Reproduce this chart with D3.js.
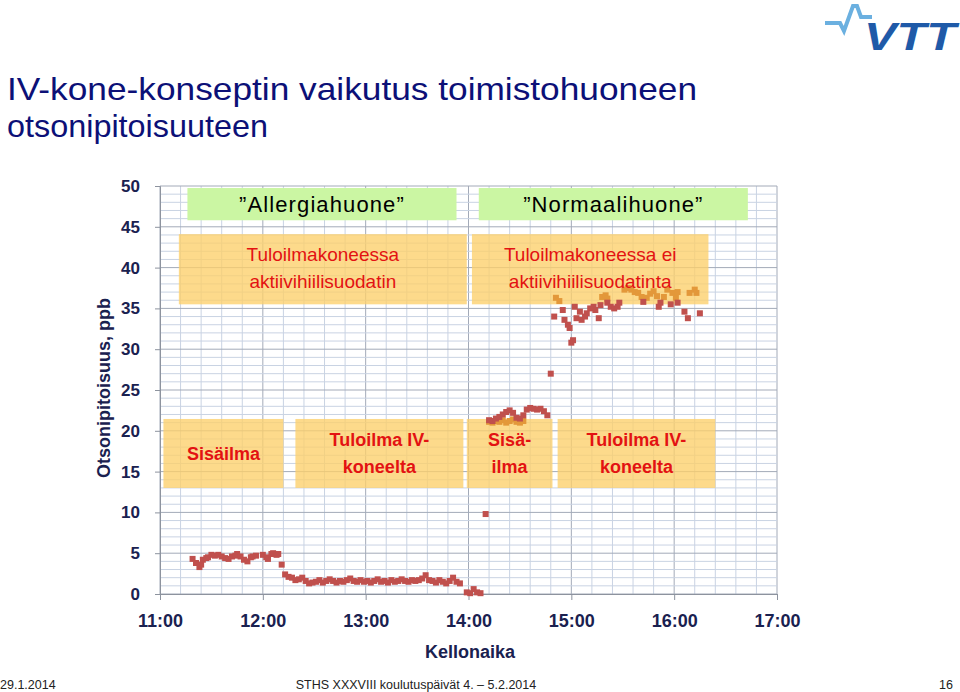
<!DOCTYPE html>
<html>
<head>
<meta charset="utf-8">
<script src="https://cdn.jsdelivr.net/npm/d3@7"></script>
<style>
  html, body { margin: 0; padding: 0; background: #fff; }
  svg { display: block; font-family: "Liberation Sans", Arial, sans-serif; }
</style>
</head>
<body>
<svg id="chart" width="960" height="692"></svg>
<script>
// ---------------- DATA ----------------
const xTickLabels = ["11:00", "12:00", "13:00", "14:00", "15:00", "16:00", "17:00"];
const yTicks = [0, 5, 10, 15, 20, 25, 30, 35, 40, 45, 50];

// Red series (ozone, ppb)
const redTimes = [
  "11:19","11:21","11:23","11:24","11:25","11:27","11:28","11:30","11:32","11:34",
  "11:36","11:38","11:40","11:42","11:44","11:45","11:47","11:49","11:51","11:53",
  "11:54","11:56","12:00","12:02","12:03","12:05","12:06","12:08","12:09","12:11",
  "12:13","12:15","12:17","12:19","12:21","12:23","12:25","12:27","12:29","12:31",
  "12:33","12:35","12:37","12:39","12:41","12:43","12:45","12:47","12:49","12:51",
  "12:53","12:55","12:57","12:59","13:01","13:03","13:05","13:07","13:09","13:11",
  "13:13","13:15","13:17","13:19","13:21","13:23","13:25","13:27","13:29","13:31",
  "13:33","13:35","13:37","13:39","13:41","13:43","13:45","13:47","13:49","13:51",
  "13:53","13:55",
  "13:59","14:01","14:03","14:05","14:07","14:10",
  "14:12","14:14","14:16","14:18","14:20","14:22","14:24","14:26","14:28","14:30",
  "14:32","14:34","14:36","14:38","14:40","14:42","14:44","14:46","14:48",
  "14:50","14:55","14:56","14:58","14:59","15:00","15:01","15:02","15:03","15:05",
  "15:06","15:08","15:09","15:11","15:13","15:14","15:16","15:17","15:21","15:23",
  "15:25","15:27","15:28","15:42","15:51","15:52","15:58","16:02","16:06","16:08",
  "16:15"
];
const redValues = [
  4.3,3.8,3.3,3.6,4.2,4.4,4.5,4.8,4.7,4.8,
  4.6,4.4,4.3,4.6,4.7,4.9,4.6,4.2,4.0,4.5,
  4.6,4.7,4.8,4.5,4.3,4.9,5.0,4.8,4.9,3.6,
  2.4,2.1,2.0,1.7,1.8,2.0,1.6,1.3,1.4,1.5,
  1.7,1.4,1.6,1.8,1.6,1.4,1.6,1.5,1.7,1.9,
  1.6,1.5,1.7,1.5,1.6,1.4,1.6,1.8,1.5,1.6,
  1.4,1.7,1.5,1.6,1.8,1.6,1.5,1.7,1.6,1.7,
  1.9,2.3,1.7,1.6,1.4,1.7,1.5,1.3,1.6,2.0,
  1.5,1.3,
  0.2,0.1,0.6,0.2,0.1,9.8,
  21.3,21.2,21.5,21.7,22.0,22.3,22.5,22.2,21.6,21.5,
  21.9,22.6,22.8,22.7,22.6,22.7,22.4,21.9,27.0,
  34.0,34.8,33.6,33.0,32.6,30.8,31.1,35.2,33.8,34.6,
  33.6,34.0,34.4,35.0,35.2,34.8,33.8,35.4,35.7,35.2,
  35.0,35.2,35.7,35.8,35.2,35.7,35.5,35.7,34.6,33.8,
  34.4
];

// Orange series (ozone, ppb)
const orangeTimes = [
  "14:12","14:14","14:16","14:18","14:20","14:22","14:24","14:26","14:28","14:30","14:32",
  "14:51","14:53","15:18","15:20","15:21","15:31","15:33","15:35","15:37","15:39",
  "15:41","15:44","15:46","15:48","15:50","15:54","15:56","15:59","16:01","16:02",
  "16:09","16:12","16:13"
];
const orangeValues = [
  21.1,21.0,21.2,21.1,21.3,21.0,21.2,21.4,21.1,21.0,21.2,
  36.3,35.9,36.4,36.6,36.2,37.3,37.5,37.3,37.0,36.9,
  36.4,36.3,36.8,37.1,36.5,36.4,37.3,36.9,36.3,37.0,
  36.9,37.3,36.9
];

// Annotation boxes (time range, ppb range)
const boxNames  = ["green1","green2","top1","top2","sis1","tulo1","sis2","tulo2"];
const boxStart  = ["11:16","14:06","11:11","14:02","11:02","12:19","13:59","14:52"];
const boxEnd    = ["13:53","16:43","13:59","16:20","12:12","13:57","14:49","16:24"];
const boxTop    = [49.75, 49.75, 44.1, 44.1, 21.45, 21.45, 21.45, 21.45];
const boxBottom = [45.8, 45.8, 35.5, 35.5, 13.0, 13.0, 13.0, 13.0];
const boxLines  = [
  ["\u201DAllergiahuone\u201D"],
  ["\u201DNormaalihuone\u201D"],
  ["Tuloilmakoneessa", "aktiivihiilisuodatin"],
  ["Tuloilmakoneessa ei", "aktiivihiilisuodatinta"],
  ["Sisäilma"],
  ["Tuloilma IV-", "koneelta"],
  ["Sisä-", "ilma"],
  ["Tuloilma IV-", "koneelta"]
];

// ---------------- DRAW ----------------
const svg = d3.select("#chart");
const parse = d3.timeParse("%H:%M");
const x = d3.scaleTime().domain([parse("11:00"), parse("17:00")]).range([160, 777]);
const y = d3.scaleLinear().domain([0, 50]).range([594, 186]);

svg.append("rect").attr("width", 960).attr("height", 692).attr("fill", "#fff");

// Title
svg.append("text").attr("x", 7).attr("y", 100).attr("fill", "#0c1077")
  .attr("font-size", 32).attr("textLength", 690).attr("lengthAdjust", "spacingAndGlyphs")
  .text("IV-kone-konseptin vaikutus toimistohuoneen");
svg.append("text").attr("x", 7).attr("y", 137).attr("fill", "#0c1077")
  .attr("font-size", 32).attr("textLength", 261).attr("lengthAdjust", "spacingAndGlyphs")
  .text("otsonipitoisuuteen");

// VTT logo
const logo = svg.append("g");
logo.append("path")
  .attr("d", "M825,23 L840,23 L844,31 L853,6 L857,6 L861,17 L872,17")
  .attr("fill", "none").attr("stroke", "#6bb0e0").attr("stroke-width", 4)
  .attr("stroke-linejoin", "miter");
logo.append("text").attr("x", 864).attr("y", 50)
  .attr("font-size", 38).attr("font-weight", "bold").attr("font-style", "italic")
  .attr("fill", "#1f5aa8").attr("textLength", 92).attr("lengthAdjust", "spacingAndGlyphs")
  .text("VTT");

// Grid
const grid = svg.append("g");
const minorX = d3.timeMinute.every(12).range(parse("11:00"), parse("17:01"));
grid.selectAll("line.vx").data(minorX).join("line")
  .attr("x1", d => x(d)).attr("x2", d => x(d))
  .attr("y1", y(50)).attr("y2", y(0))
  .attr("stroke", d => d.getMinutes() === 0 ? "#a3aab8" : "#c9d3e3")
  .attr("stroke-width", 1);
grid.selectAll("line.hy").data(d3.range(0, 51, 1)).join("line")
  .attr("x1", x.range()[0]).attr("x2", x.range()[1])
  .attr("y1", d => y(d)).attr("y2", d => y(d))
  .attr("stroke", d => d % 5 === 0 ? "#a3aab8" : "#c9d3e3")
  .attr("stroke-width", 1);

// Axes
const axisColor = "#1a2150";
const yAxis = svg.append("g").attr("transform", `translate(${x.range()[0]},0)`)
  .call(d3.axisLeft(y).tickValues(yTicks).tickSize(5).tickPadding(15).tickFormat(d3.format("d")));
yAxis.select(".domain").attr("stroke", "#8d939e");
yAxis.selectAll(".tick line").attr("stroke", "#8d939e");
yAxis.selectAll(".tick text").attr("font-size", 17).attr("font-weight", "bold").attr("fill", axisColor)
  .attr("font-family", "Liberation Sans, Arial, sans-serif");

const xAxis = svg.append("g").attr("transform", `translate(0,${y(0)})`)
  .call(d3.axisBottom(x).tickValues(xTickLabels.map(parse)).tickSize(6).tickPadding(14)
    .tickFormat((d, i) => xTickLabels[i]));
xAxis.select(".domain").attr("stroke", "#8d939e");
xAxis.selectAll(".tick line").attr("stroke", "#8d939e");
xAxis.selectAll(".tick text").attr("font-size", 18).attr("font-weight", "bold").attr("fill", axisColor)
  .attr("font-family", "Liberation Sans, Arial, sans-serif");

// Axis titles
svg.append("text").attr("x", 470).attr("y", 658).attr("text-anchor", "middle")
  .attr("font-size", 18).attr("font-weight", "bold").attr("fill", axisColor).text("Kellonaika");
svg.append("text").attr("transform", "translate(110,388) rotate(-90)").attr("text-anchor", "middle")
  .attr("font-size", 18).attr("font-weight", "bold").attr("fill", axisColor).text("Otsonipitoisuus, ppb");

// Boxes
const boxes = boxNames.map((n, i) => ({
  name: n, x0: x(parse(boxStart[i])), x1: x(parse(boxEnd[i])),
  y0: y(boxTop[i]), y1: y(boxBottom[i]), lines: boxLines[i]
}));
svg.append("g").selectAll("rect").data(boxes).join("rect")
  .attr("x", d => d.x0).attr("y", d => d.y0)
  .attr("width", d => d.x1 - d.x0).attr("height", d => d.y1 - d.y0)
  .attr("fill", d => d.name.startsWith("green") ? "#cbf6a3" : "#fdd06a")
  .attr("fill-opacity", d => d.name.startsWith("green") ? 1 : 0.78);

// Data points
const sq = 6;
const redData = redTimes.map((t, i) => ({ t: parse(t), v: redValues[i] }));
const orangeData = orangeTimes.map((t, i) => ({ t: parse(t), v: orangeValues[i] }));
svg.append("g").selectAll("rect").data(orangeData).join("rect")
  .attr("x", d => x(d.t) - sq / 2).attr("y", d => y(d.v) - sq / 2)
  .attr("width", sq).attr("height", sq).attr("fill", "#e3983a");
svg.append("g").selectAll("rect").data(redData).join("rect")
  .attr("x", d => x(d.t) - sq / 2).attr("y", d => y(d.v) - sq / 2)
  .attr("width", sq).attr("height", sq).attr("fill", "#c0504d");

// Box texts
const labelStyle = {
  green: { size: 22, weight: "normal", fill: "#000", lh: 0, ls: 1.1, dy: 0 },
  top:   { size: 19, weight: "normal", fill: "#e31212", lh: 27, ls: 0, dy: -2 },
  sis:   { size: 18, weight: "bold", fill: "#e31212", lh: 27, ls: 0, dy: 0 },
  tulo:  { size: 18, weight: "bold", fill: "#e31212", lh: 27, ls: 0, dy: 0 }
};
boxes.forEach(b => {
  const key = b.name.replace(/\d/g, "");
  const st = labelStyle[key];
  const cx = (b.x0 + b.x1) / 2;
  const cy = (b.y0 + b.y1) / 2;
  const n = b.lines.length;
  b.lines.forEach((ln, i) => {
    svg.append("text").attr("x", cx)
      .attr("y", cy + (i - (n - 1) / 2) * st.lh + st.size * 0.36 + st.dy)
      .attr("text-anchor", "middle").attr("font-size", st.size)
      .attr("letter-spacing", st.ls)
      .attr("font-weight", st.weight).attr("fill", st.fill).text(ln);
  });
});

// Footer
svg.append("text").attr("x", 0).attr("y", 689).attr("font-size", 12.5).attr("fill", "#222").text("29.1.2014");
svg.append("text").attr("x", 416).attr("y", 689).attr("text-anchor", "middle").attr("font-size", 12.5).attr("fill", "#222")
  .text("STHS XXXVIII koulutuspäivät 4. – 5.2.2014");
svg.append("text").attr("x", 953).attr("y", 689).attr("text-anchor", "end").attr("font-size", 12.5).attr("fill", "#222").text("16");
</script>
</body>
</html>
